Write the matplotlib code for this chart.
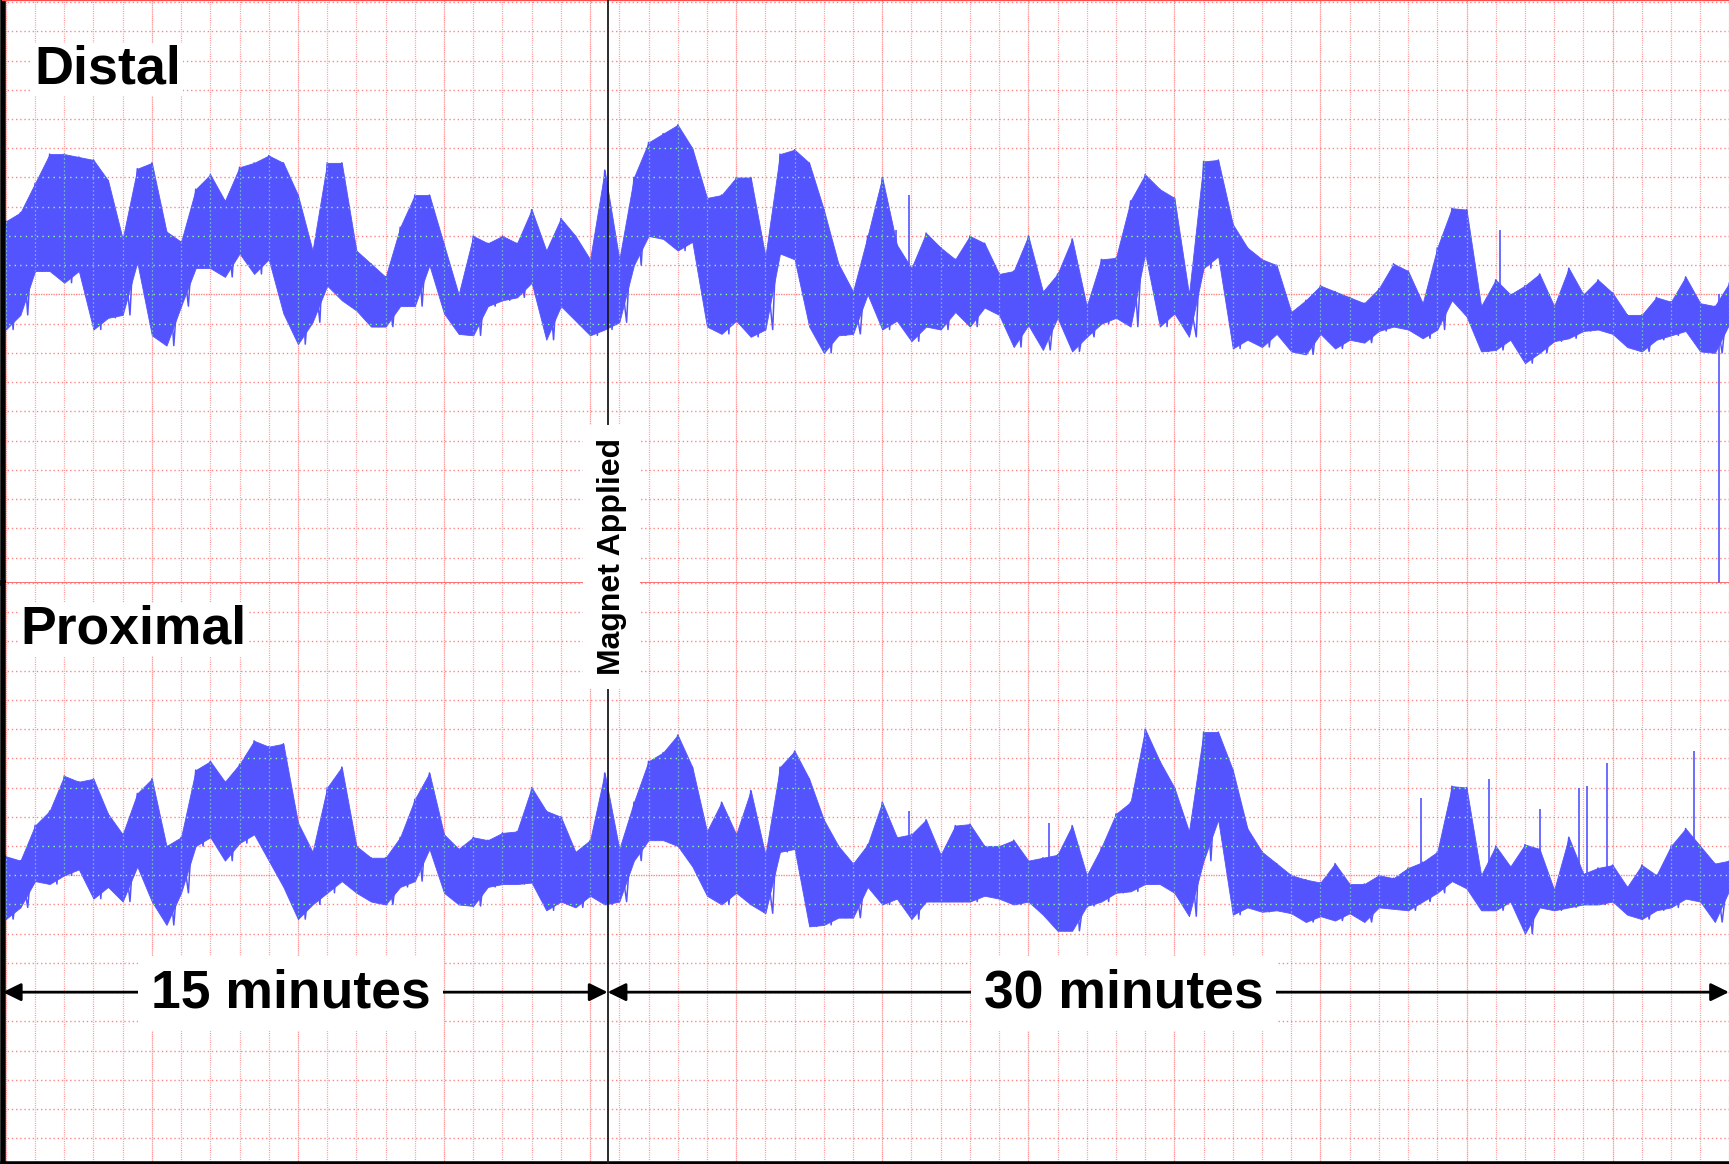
import numpy as np
import matplotlib.pyplot as plt
from matplotlib.transforms import blended_transform_factory

plt.rcParams['font.family'] = ['Liberation Sans', 'DejaVu Sans']

# chart paper: one division = 15/20.6 min, trace sampled every half division
CELL = 15 / 20.6
magnet_t = 15.0
t_end = 42.95
t = np.arange(119) * CELL / 2

# distal channel, upper / lower edge of the trace (divisions from baseline)
distal_hi = [2.5, 2.8, 3.8, 4.8, 4.8, 4.7, 4.6, 3.9, 1.9, 4.3,
             4.5, 2.15, 1.8, 3.6, 4.1, 3.2, 4.35, 4.5, 4.75, 4.5,
             3.4, 1.5, 4.5, 4.5, 1.5, 1.05, 0.6, 2.3, 3.4, 3.4,
             1.7, 0.0, 2.0, 1.75, 2.0, 1.75, 2.9, 1.5, 2.6, 2.0,
             1.2, 4.25, 1.2, 4.0, 5.2, 5.5, 5.8, 5.0, 3.3, 3.4,
             4.0, 4.0, 1.3, 4.8, 4.95, 4.5, 2.9, 1.05, 0.1, 2.0,
             4.0, 1.7, 0.9, 2.1, 1.6, 1.2, 2.0, 1.75, 0.7, 0.8,
             2.0, 0.1, 0.7, 1.9, -0.4, 1.2, 1.25, 3.2, 4.1, 3.6,
             3.3, 0.0, 4.55, 4.6, 2.4, 1.6, 1.2, 1.0, -0.6, -0.2,
             0.3, 0.1, -0.1, -0.3, 0.2, 1.05, 0.8, -0.3, 1.6, 2.95,
             2.9, -0.4, 0.5, 0.0, 0.3, 0.7, -0.4, 0.9, 0.0, 0.5,
             0.05, -0.7, -0.7, -0.1, -0.25, 0.6, -0.3, -0.4, 0.4]
distal_lo = [-1.2, -0.7, 0.8, 0.8, 0.4, 0.8, -1.2, -0.8, -0.7, 1.1,
             -1.4, -1.75, -0.4, 0.9, 0.9, 0.6, 1.4, 0.7, 1.2, -0.65,
             -1.7, -0.95, 0.3, -0.2, -0.55, -1.1, -1.1, -0.4, -0.4, 1.0,
             -0.65, -1.35, -1.4, -0.4, -0.2, -0.1, 0.4, -1.55, -0.4, -0.9,
             -1.4, -1.2, -0.95, 1.0, 2.0, 1.9, 1.5, 1.8, -1.1, -1.35,
             -0.9, -1.45, -1.2, 1.4, 1.2, -1.1, -2.0, -1.4, -1.35, 0.0,
             -1.2, -0.9, -1.6, -1.1, -1.2, -0.6, -1.1, -0.45, -0.7, -1.8,
             -1.05, -1.9, -0.8, -1.95, -1.45, -1.0, -0.8, -1.1, 1.4, -1.1,
             -0.65, -1.45, 0.9, 1.3, -1.85, -1.55, -1.8, -1.35, -1.95, -2.05,
             -1.35, -1.85, -1.55, -1.65, -1.25, -1.1, -1.2, -1.5, -1.2, -0.2,
             -0.75, -1.95, -1.9, -1.55, -2.35, -2.0, -1.6, -1.5, -1.25, -1.2,
             -1.35, -1.8, -1.95, -1.55, -1.4, -1.25, -1.95, -2.0, -1.0]
# narrow spikes (minutes, divisions); the last one is the drop at the end
distal_spike_t = [22.2, 22.5, 37.23, 42.70]
distal_spike_v = [2.2, 3.4, 2.2, -10.0]

# proximal channel
proximal_hi = [0.65, 0.5, 1.7, 2.2, 3.4, 3.2, 3.3, 2.1, 1.4, 2.8,
               3.3, 1.0, 1.3, 3.6, 3.9, 3.2, 3.8, 4.6, 4.4, 4.5,
               1.8, 0.8, 3.0, 3.7, 1.0, 0.6, 0.6, 1.3, 2.6, 3.5,
               1.4, 0.9, 1.3, 1.2, 1.45, 1.5, 3.0, 2.2, 2.0, 0.8,
               1.2, 3.5, 0.9, 2.5, 3.9, 4.2, 4.8, 3.7, 1.5, 2.5,
               1.4, 2.9, 0.7, 3.7, 4.25, 3.3, 1.9, 1.0, 0.4, 1.05,
               2.5, 1.3, 1.4, 1.9, 0.7, 1.7, 1.75, 1.0, 1.0, 1.2,
               0.5, 0.6, 0.7, 1.7, 0.0, 0.95, 2.1, 2.5, 5.0, 3.9,
               3.0, 1.5, 4.9, 4.9, 3.6, 1.6, 0.8, 0.4, 0.0, -0.15,
               -0.25, 0.4, -0.3, -0.3, 0.0, -0.1, 0.25, 0.45, 0.8, 3.05,
               3.0, 0.0, 1.0, 0.3, 1.05, 0.9, -0.5, 1.3, 0.05, 0.25,
               0.35, -0.4, 0.35, 0.0, 1.0, 1.6, 1.0, 0.4, 0.5]
proximal_lo = [-1.5, -1.1, -0.2, -0.3, 0.0, 0.2, -0.8, -0.4, -0.9, 0.3,
               -0.9, -1.7, -0.6, 1.0, 1.3, 0.5, 1.1, 1.4, 0.5, -0.4,
               -1.5, -1.0, -0.6, -0.2, -0.6, -0.9, -1.0, -0.4, -0.2, 0.9,
               -0.6, -1.0, -1.05, -0.4, -0.3, -0.3, -0.25, -1.2, -0.9, -1.1,
               -0.7, -1.0, -0.9, 0.5, 1.2, 1.2, 1.0, 0.3, -0.7, -1.0,
               -0.6, -1.0, -1.3, 0.8, 0.9, -1.75, -1.7, -1.45, -1.45, -0.4,
               -1.0, -0.8, -1.5, -0.9, -0.9, -0.9, -0.9, -0.7, -0.8, -1.0,
               -0.9, -1.35, -1.9, -1.9, -1.05, -0.9, -0.6, -0.55, -0.3, -0.3,
               -0.6, -1.4, 0.5, 1.9, -1.35, -1.1, -1.25, -1.2, -1.3, -1.6,
               -1.4, -1.55, -1.3, -1.6, -1.1, -1.15, -1.2, -0.9, -0.6, -0.2,
               -0.45, -1.2, -1.2, -0.9, -2.0, -1.1, -1.2, -1.1, -1.0, -1.0,
               -0.9, -1.35, -1.5, -1.2, -1.1, -0.8, -0.9, -1.6, -0.5]
proximal_spike_t = [3.86, 22.50, 26.0, 35.28, 36.96, 38.23, 39.21, 39.40, 39.91, 42.09]
proximal_spike_v = [1.5, 2.2, 1.8, 2.65, 3.3, 2.25, 3.0, 3.05, 3.85, 4.25]

TRACE = '#5454ff'
GRID = '#ff5c5c'
GREEN = '#86ff86'

W, H = 1729, 1164
fig = plt.figure(figsize=(W / 100, H / 100), dpi=100)
ax_top = fig.add_axes([2.8 / W, 581 / H, 1 - 2.8 / W, 583 / H])
ax_bot = fig.add_axes([2.8 / W, 0, 1 - 2.8 / W, 581 / H])


def draw_channel(ax, hi, lo, spike_t, spike_v, ylim):
    ax.set_xlim(-0.075, t_end)
    ax.set_ylim(*ylim)
    ax.tick_params(length=0, labelbottom=False, labelleft=False)
    xs = np.arange(60) * CELL
    ys = np.arange(np.ceil(ylim[0]), np.floor(ylim[1]) + 1)

    # chart paper grid
    for i, x in enumerate(xs):
        ls = (0, (1, 0.5)) if i % 5 == 0 else (0, (0.8, 1.0))
        ax.axvline(x, color=GRID, lw=0.9, ls=ls, alpha=0.65, zorder=1)
    for y in ys:
        ls = (0, (1, 0.8)) if y == 0 else (0, (1, 2))
        ax.axhline(y, color=GRID, lw=1.0, ls=ls, alpha=0.75, zorder=1)

    # recorder band with the pen strokes zig-zagging between its edges
    fill = ax.fill_between(t, lo, hi, color=TRACE, lw=0.6, zorder=2)
    zig_t = np.ravel(np.column_stack([t, t + CELL / 4]))
    zig_v = np.ravel(np.column_stack([hi, lo]))
    ax.plot(zig_t, zig_v, color=TRACE, lw=1.1, zorder=2)
    ax.vlines(spike_t, 0, spike_v, color=TRACE, lw=1.2, zorder=2)

    # grid dots show through the trace in green
    clip = fill.get_paths()[0]
    for x in xs:
        ln = ax.axvline(x, color=GREEN, lw=0.9, ls=(0, (0.8, 2.4)), zorder=2.5)
        ln.set_clip_path(clip, ax.transData)
    for y in ys:
        ln = ax.axhline(y, color=GREEN, lw=1.0, ls=(0, (1, 3)), zorder=2.5)
        ln.set_clip_path(clip, ax.transData)

    ax.axvline(magnet_t, color='#1a1a1a', lw=1.3, zorder=4)
    ax.spines['right'].set_visible(False)
    ax.spines['left'].set_color('black')
    ax.spines['left'].set_linewidth(4)


draw_channel(ax_top, distal_hi, distal_lo, distal_spike_t, distal_spike_v,
             (-9.87, 10.07))
draw_channel(ax_bot, proximal_hi, proximal_lo, proximal_spike_t, proximal_spike_v,
             (-9.88, 10.0))

ax_top.spines['top'].set_color('#ff4a4a')
ax_top.spines['top'].set_linewidth(1.6)
ax_top.spines['bottom'].set_color('#ff4a4a')
ax_top.spines['bottom'].set_linewidth(1.1)
ax_bot.spines['top'].set_visible(False)
ax_bot.spines['bottom'].set_color('black')
ax_bot.spines['bottom'].set_linewidth(4)

label_box = dict(facecolor='white', edgecolor='none', pad=1)
ax_top.text(0.0181, 0.857, 'Distal', transform=ax_top.transAxes, fontsize=38.8,
            fontweight='bold', ha='left', va='baseline', bbox=label_box, zorder=6)
ax_bot.text(0.0100, 0.896, 'Proximal', transform=ax_bot.transAxes, fontsize=38.5,
            fontweight='bold', ha='left', va='baseline', bbox=label_box, zorder=6)

# time spans before and after the magnet
head = '<|-|>,head_length=0.55,head_width=0.27'
for x0, x1 in [(-0.075, magnet_t), (magnet_t, t_end)]:
    ax_bot.annotate('', xy=(x0, -4), xytext=(x1, -4),
                    arrowprops=dict(arrowstyle=head, color='black', lw=2,
                                    shrinkA=0, shrinkB=0, mutation_scale=20),
                    zorder=5)
span_box = dict(facecolor='white', edgecolor='none', pad=9)
ax_bot.text(7.1, -4.05, '15 minutes', ha='center', va='center', fontsize=38.5,
            fontweight='bold', bbox=span_box, zorder=6)
ax_bot.text(27.86, -4.05, '30 minutes', ha='center', va='center', fontsize=38.5,
            fontweight='bold', bbox=span_box, zorder=6)

fig.text(magnet_t + 0.1, 0.5215, 'Magnet Applied',
         transform=blended_transform_factory(ax_top.transData, fig.transFigure),
         rotation=90, ha='center', va='center', fontsize=23, fontweight='bold',
         bbox=dict(facecolor='white', edgecolor='none', pad=10))

fig.savefig('out.png', dpi=100)
